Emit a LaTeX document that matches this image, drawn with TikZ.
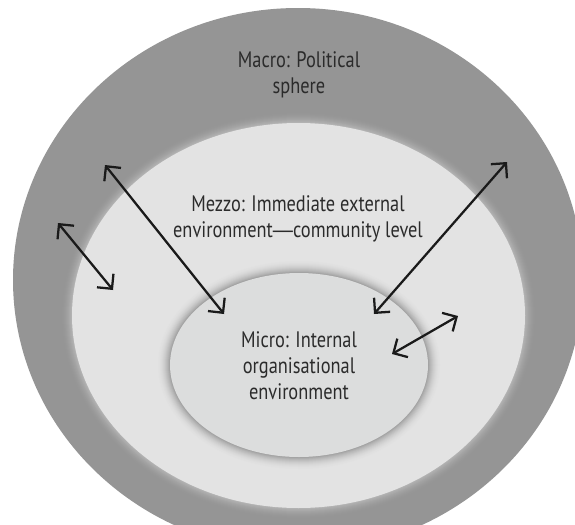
\documentclass[tikz,border=0pt]{standalone}
\usepackage{fontspec}
\setmainfont{PT Sans}[FakeStretch=0.82]
\newfontfamily\dashfont{Liberation Sans}[FakeStretch=0.9]
\usetikzlibrary{arrows.meta}
\definecolor{macroc}{HTML}{959595}
\definecolor{glowc}{HTML}{B8B8B8}
\definecolor{mezzoc}{HTML}{E3E3E3}
\definecolor{shadc}{HTML}{9A9A9A}
\definecolor{microc}{HTML}{DCDDDD}
\definecolor{txtc}{HTML}{2B2B2B}
\definecolor{arrc}{HTML}{1A1A1A}
\begin{document}
\begin{tikzpicture}[x=0.75pt,y=-0.75pt,
  txtstyle/.style={text=txtc, font=\fontsize{16.8}{19.5}\selectfont, align=center, inner sep=0pt},
  biarrow/.style={{Straight Barb[length=8pt,width=16pt]}-{Straight Barb[length=8pt,width=16pt]}, line width=1.7pt, draw=arrc}]
\useasboundingbox (0,0) rectangle (575,525);
\clip (0,0) rectangle (575,525);
\fill[white] (0,0) rectangle (575,525);
% macro sphere
\fill[macroc] (298,280) ellipse [x radius=285, y radius=272];
% glow around mezzo
\foreach \i in {0,...,12}{
  \pgfmathtruncatemacro\p{100*(\i/12)^2}
  \fill[glowc!\p!macroc] (298.5,315.5) ellipse [x radius={226.5+12-\i}, y radius={192.5+12-\i}];
}
\fill[mezzoc] (298.5,315.5) ellipse [x radius=226.5, y radius=192.5];
% shadow around micro
\foreach \i in {0,...,14}{
  \pgfmathtruncatemacro\p{100*(\i/14)^2}
  \fill[shadc!\p!mezzoc] (299,365) ellipse [x radius={129+14-\i}, y radius={92+14-\i}];
}
\fill[microc] (299,365) ellipse [x radius=129, y radius=92];
% texts
\node[txtstyle] (macro) at (299,75) {Macro: Political\\sphere};
\node[txtstyle] (mezzo) at (298,219) {Mezzo: Immediate external\\environment{\dashfont —}community level};
\node[txtstyle] (micro) at (299,366) {Micro: Internal\\organisational\\environment};
% arrows
\coordinate (a1s) at (58,223);
\coordinate (a1e) at (113,290);
\coordinate (a2s) at (105,165);
\coordinate (a2e) at (224,314);
\coordinate (a3s) at (507,162);
\coordinate (a3e) at (374,314);
\coordinate (a4s) at (458,316);
\coordinate (a4e) at (392,354);
\draw[biarrow] (a1s) -- (a1e);
\draw[biarrow] (a2s) -- (a2e);
\draw[biarrow] (a3s) -- (a3e);
\draw[biarrow] (a4s) -- (a4e);
\end{tikzpicture}
\end{document}
